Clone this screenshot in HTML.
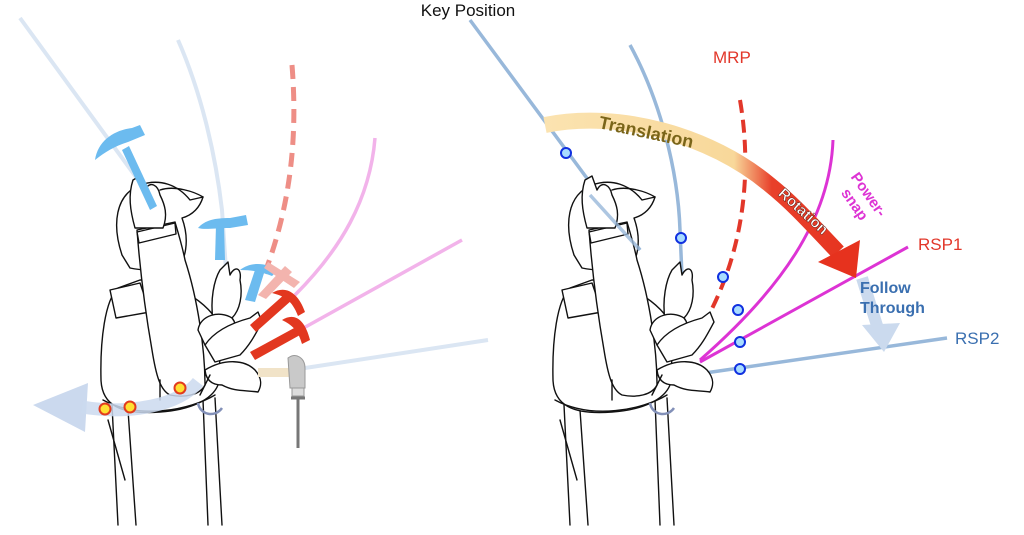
<!DOCTYPE html>
<html><head><meta charset="utf-8"><style>
html,body{margin:0;padding:0;background:#fff;}
svg{display:block;font-family:"Liberation Sans",sans-serif;}
</style></head><body>
<svg width="1024" height="535" viewBox="0 0 1024 535" xmlns="http://www.w3.org/2000/svg">
<defs>
<linearGradient id="trg" x1="545" y1="0" x2="860" y2="0" gradientUnits="userSpaceOnUse">
<stop offset="0" stop-color="#fbe3b0"/><stop offset="0.6" stop-color="#f8d89a"/><stop offset="0.72" stop-color="#e8402a"/><stop offset="1" stop-color="#e6321e"/>
</linearGradient>
<g id="fig" fill="#fff" stroke="#111" stroke-width="1.4" stroke-linejoin="round" stroke-linecap="round">
  <path d="M112,405 L118,525 M128,410 L136,525 M203,400 L208,525 M215,398 L222,525" fill="none"/>
  <path d="M108,420 L125,480" fill="none"/>
  <path d="M118,288 C105,300 100,340 101,380 C102,405 120,415 160,412 C190,410 212,400 218,385 L222,330 C210,300 170,280 140,280 Z"/>
  <path d="M110,290 L140,283 L150,312 L116,318 Z"/>
  <path d="M103,400 C140,420 190,410 215,395" fill="none"/>
  <path d="M122,255 C112,225 115,195 140,185 C160,178 178,185 190,200 L203,197 C200,207 193,215 182,218 C190,240 186,262 175,270 C160,272 140,270 130,268 Z"/>
  <path d="M160,190 C175,185 195,192 203,197" fill="none"/>
  <path d="M137,230 C140,270 145,310 152,350 C156,375 160,390 170,395 C185,398 200,395 205,385 C205,350 198,300 185,260 C182,245 178,232 175,222 Z"/>
  <path d="M137,232 L175,223 L176,234 L139,243 Z"/>
  <path d="M160,380 L160,400" fill="none"/>
  <path d="M135,228 C130,210 128,195 133,180 L140,176 L145,190 C150,180 158,185 160,195 C165,205 168,215 163,228 Z"/>
  <path d="M213,320 C210,300 214,280 220,270 L228,262 L230,275 C235,265 242,268 240,280 C243,295 240,310 232,318 Z"/>
  <path d="M198,330 C200,315 220,310 232,318 C238,325 236,338 225,345 L205,345 Z"/>
  <path d="M205,345 C215,330 235,322 250,318 L258,312 L262,322 C255,335 250,345 240,355 L215,362 Z"/>
  <path d="M205,370 C225,358 245,360 255,370 C262,378 262,385 258,392 C245,390 235,392 222,385 C212,385 206,380 205,370 Z"/>
  <path d="M200,395 L210,375" fill="none"/>
</g>
</defs>

<!-- LEFT PANEL -->
<path d="M20,18 L160,210" stroke="#dbe6f3" stroke-width="4" fill="none"/>
<path d="M178,40 C200,90 215,150 222,210 L228,300" stroke="#dbe6f3" stroke-width="4" fill="none"/>
<path d="M292,65 C298,140 290,210 262,280" stroke="#ee8e86" stroke-width="5" stroke-dasharray="14,8" fill="none"/>
<path d="M375,138 C370,200 340,250 295,295" stroke="#f2b3ea" stroke-width="3.5" fill="none"/>
<path d="M462,240 L300,330" stroke="#f2b3ea" stroke-width="3.5" fill="none"/>
<path d="M488,340 L305,368" stroke="#dbe6f3" stroke-width="4" fill="none"/>
<path d="M33,405 L88,383 L85,432 Z" fill="#cbd9ee"/>

<use href="#fig"/>
<path d="M82,407 C130,415 180,405 198,382" stroke="#cbd9ee" stroke-width="13" fill="none" opacity="0.85"/>

<!-- hammers left -->
<g fill="#6cbbef" stroke="none">
<path d="M122,150 L150,210 L157,206 L129,146 Z"/>
<path d="M95,160 C98,140 115,130 132,128 L140,125 L145,135 L128,142 C115,146 105,152 95,160 Z"/>
<path d="M215,260 L225,260 L224,225 L216,225 Z"/>
<path d="M198,228 C205,220 215,218 230,218 L246,215 L248,225 L230,228 C215,228 205,230 198,228 Z"/>
<path d="M245,300 L255,302 L265,270 L256,267 Z"/>
<path d="M240,270 C250,262 265,262 278,270 L272,276 C262,272 252,270 240,270 Z"/>
</g>
<g fill="#f3b4ae"><path d="M258,295 L266,299 L292,272 L285,266 Z"/><path d="M268,262 L300,282 L294,288 L264,268 Z"/></g>
<g fill="#e2371f">
<path d="M250,325 L256,332 L292,300 L286,293 Z"/><path d="M272,293 C285,285 298,292 305,312 L298,316 C292,300 284,296 272,293 Z"/>
<path d="M250,352 L255,360 L300,335 L296,327 Z"/><path d="M282,320 C295,312 305,320 310,340 L302,344 C298,330 292,325 282,320 Z"/>
</g>
<rect x="258" y="368" width="34" height="9" fill="#f1e3c8"/>
<path d="M288,358 C296,352 305,358 305,368 L305,388 L290,388 Z" fill="#c9c9c9" stroke="#999"/>
<rect x="292" y="388" width="12" height="8" fill="#ddd" stroke="#999"/>
<path d="M291,398 L305,398 M298,398 L298,448" stroke="#777" stroke-width="3"/>

<circle cx="105" cy="409" r="5.5" fill="#ffe033" stroke="#e23b1e" stroke-width="2"/>
<circle cx="130" cy="407" r="5.5" fill="#ffe033" stroke="#e23b1e" stroke-width="2"/>
<circle cx="180" cy="388" r="5.5" fill="#ffe033" stroke="#e23b1e" stroke-width="2"/>
<path d="M198,403 C200,415 215,418 222,408" stroke="#8290b8" stroke-width="2.5" fill="none"/>

<!-- RIGHT PANEL -->
<text x="468" y="16" font-size="17" text-anchor="middle" fill="#111">Key Position</text>
<path d="M470,20 L640,250" stroke="#98b8da" stroke-width="3.5" fill="none"/>
<path d="M630,45 C660,100 678,170 680,230 L683,300" stroke="#98b8da" stroke-width="3.5" fill="none"/>
<path d="M740,100 C752,170 745,250 705,322" stroke="#e2372a" stroke-width="4" stroke-dasharray="13,7" fill="none"/>
<path d="M833,140 C830,220 780,290 700,360" stroke="#dd33d4" stroke-width="3" fill="none"/>
<path d="M908,247 L700,362" stroke="#dd33d4" stroke-width="3" fill="none"/>
<path d="M947,338 L705,373" stroke="#98b8da" stroke-width="3.5" fill="none"/>

<path d="M545,125 C620,110 710,135 770,185 C795,205 815,228 838,252" stroke="url(#trg)" stroke-width="16" fill="none" stroke-linecap="butt"/>
<path d="M818,262 L860,240 L856,278 Z" fill="#e6321e"/>
<text x="645" y="138" font-size="18" font-weight="bold" fill="#7a6519" text-anchor="middle" transform="rotate(12 645 138)">Translation</text>
<text x="800" y="215" font-size="15" font-weight="bold" fill="#fff" stroke="#5a1a10" stroke-width="0.5" text-anchor="middle" transform="rotate(42 800 215)">Rotation</text>
<text x="858" y="202" font-size="15" font-weight="bold" fill="#dd33d4" text-anchor="middle" transform="rotate(55 858 202)"><tspan x="858" dy="-8">Power-</tspan><tspan x="858" dy="17">snap</tspan></text>
<text x="713" y="63" font-size="17" fill="#e2372a">MRP</text>
<text x="918" y="250" font-size="17" fill="#e2372a">RSP1</text>
<text x="955" y="344" font-size="17" fill="#3a6fb0">RSP2</text>
<path d="M862,278 L880,335" stroke="#cbdaee" stroke-width="12"/>
<path d="M862,325 L900,323 L884,352 Z" fill="#cbdaee"/>
<text x="860" y="293" font-size="16" font-weight="bold" fill="#3a6fb0">Follow</text>
<text x="860" y="313" font-size="16" font-weight="bold" fill="#3a6fb0">Through</text>

<use href="#fig" transform="translate(452,0)"/>
<path d="M590,195 L640,250" stroke="#98b8da" stroke-width="3.5" fill="none" opacity="0.8"/>
<path d="M650,403 C652,415 667,418 674,408" stroke="#8290b8" stroke-width="2.5" fill="none"/>

<g fill="#a8dcff" stroke="#1030e0" stroke-width="2">
<circle cx="566" cy="153" r="5"/><circle cx="681" cy="238" r="5"/><circle cx="723" cy="277" r="5"/>
<circle cx="738" cy="310" r="5"/><circle cx="740" cy="342" r="5"/><circle cx="740" cy="369" r="5"/>
</g>
</svg>
</body></html>
